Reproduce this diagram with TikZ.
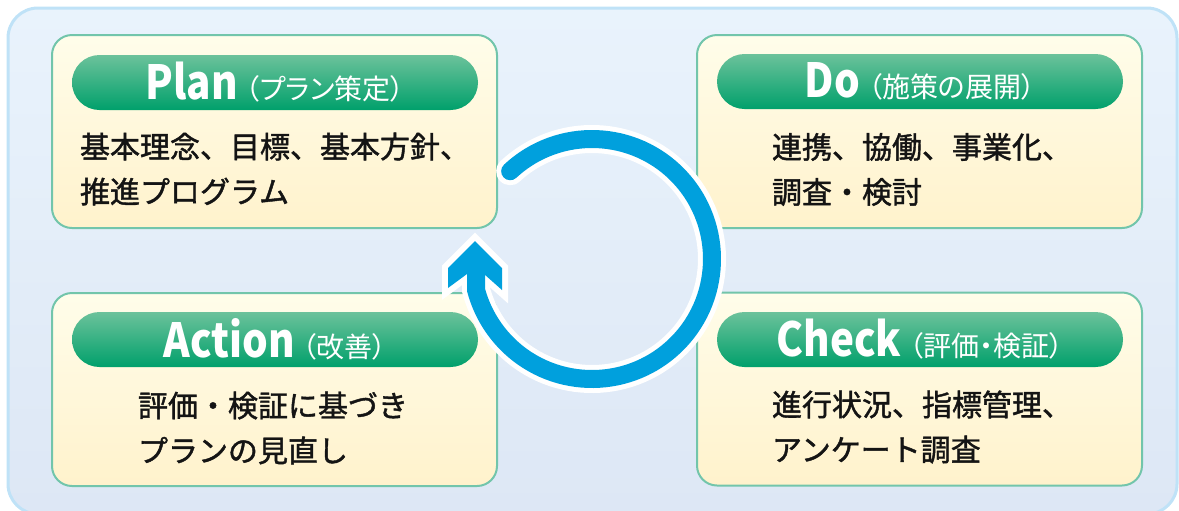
\documentclass[tikz,border=0pt]{standalone}
\usepackage{fontspec}
\usetikzlibrary{calc}
\setmainfont{Noto Sans CJK JP}
\newfontfamily\jpbody[FakeBold=1.4]{Noto Sans CJK JP}
\newfontfamily\jpparen[RawFeature=+palt]{Noto Sans CJK JP}
\definecolor{bgtop}{HTML}{E9F3FC}
\definecolor{bgbot}{HTML}{DDE7F5}
\definecolor{bgline}{HTML}{BFE2F7}
\definecolor{boxtop}{HTML}{FFFDEA}
\definecolor{boxbot}{HTML}{FFF2CC}
\definecolor{boxline}{HTML}{72C5AB}
\definecolor{pilltop}{HTML}{6CC29B}
\definecolor{pillbot}{HTML}{00A06B}
\definecolor{arrowblue}{HTML}{00A0DD}
\definecolor{textc}{HTML}{141414}
\newcommand\hdtext[2]{\scalebox{0.86}[1]{\fontsize{23.5pt}{23.5pt}\selectfont\bfseries #1}\hspace{4pt}{\jpparen\fontsize{14pt}{14pt}\selectfont #2}}
\begin{document}
\begin{tikzpicture}[x=0.5pt,y=-0.5pt,
  box/.style={draw=boxline, line width=1pt, rounded corners=10pt, top color=boxtop, bottom color=boxbot, minimum width=222.5pt, minimum height=96.5pt, inner sep=0pt},
  pill/.style={rounded corners=13.75pt, top color=pilltop, bottom color=pillbot, minimum width=203pt, minimum height=27.5pt, inner sep=0pt, text=white},
  body/.style={align=left, font=\jpbody\fontsize{15pt}{22.5pt}\selectfont, text=textc, inner sep=0pt},
  cycback/.style={draw=white, line width=14pt},
  cycfront/.style={draw=arrowblue, line width=9pt},
]
\useasboundingbox (0,0) rectangle (1179,510);
\draw[draw=bgline, line width=1.5pt, rounded corners=15pt, top color=bgtop, bottom color=bgbot] (8,8) rectangle (1177,514);

% boxes
\node[box] (planbox) at (274.5,131.5) {};
\node[box] (dobox) at (919.5,131.5) {};
\node[box] (actbox) at (274.5,389.5) {};
\node[box] (chkbox) at (919.5,389) {};

% headers
\node[pill] (planhd) at (275,82.5) {\hdtext{Plan}{（プラン策定）}};
\node[pill] (dohd) at (920,81.5) {\hdtext{Do}{（施策の展開）}};
\node[pill] (acthd) at (275,339.5) {\hdtext{Action}{（改善）}};
\node[pill] (chkhd) at (920,339.5) {\hdtext{Check}{（評価・検証）}};

% bodies
\node[body] (planbody) at (275,169) {基本理念、目標、基本方針、\\推進プログラム};
\node[body] (dobody) at (922,169.5) {連携、協働、事業化、\\調査・検討};
\node[body] (actbody) at (273,428) {評価・検証に基づき\\プランの見直し};
\node[body] (chkbody) at (922,427) {進行状況、指標管理、\\アンケート調査};

% cycle arrow
\coordinate (cc) at (592,259);
\coordinate (tail) at ($(cc)+(-133:120)$);
\coordinate (tip) at (475,241);
\coordinate (rs) at (502,268);
\coordinate (rb) at (502,290);
\coordinate (ri) at (484,274);
\coordinate (li) at (467,274);
\coordinate (lb) at (448,288);
\coordinate (ls) at (448,268);
\draw[white, line width=6pt, line join=miter, fill=white] (tip) -- (rs) -- (rb) -- (ri) -- (li) -- (lb) -- (ls) -- cycle;
\draw[cycback, line cap=round] (tail) arc[start angle=-133, end angle=165, radius=120] -- ++(0,-28);
\fill[arrowblue] (tip) -- (rs) -- (rb) -- (ri) -- (li) -- (lb) -- (ls) -- cycle;
\draw[cycfront, line cap=round] (tail) arc[start angle=-133, end angle=165, radius=120] -- ++(0,-28);
\end{tikzpicture}
\end{document}
